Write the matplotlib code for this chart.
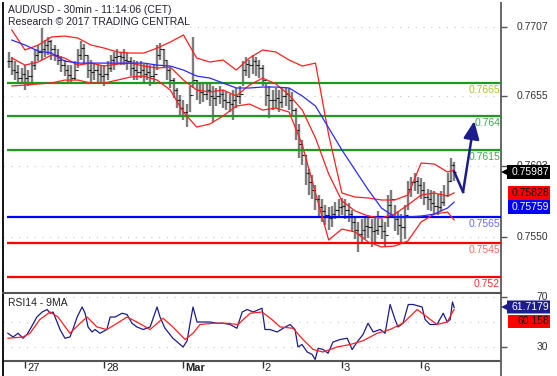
import numpy as np
import matplotlib
matplotlib.use("Agg")
import matplotlib.pyplot as plt
import matplotlib.transforms as mtrans
from matplotlib.patches import Polygon
from matplotlib.lines import Line2D

plt.rcParams['font.family'] = ['Liberation Sans', 'DejaVu Sans']

# hourly bars, x = hours since start of the 27th (24 per trading day)
first_hour = -5
high = [.7688, .7684, .7681, .7678, .7676, .7678, .7675, .7681, .7690, .7693,
        .7706, .7697, .7699, .7697, .7693, .7690, .7685, .7682, .7678, .7678,
        .7681, .7690, .7696, .7694, .7685, .7682, .7680, .7679, .7678, .7678,
        .7681, .7686, .7688, .7690, .7688, .7690, .7687, .7684, .7682, .7681,
        .7681, .7679, .7680, .7678, .7679, .7693, .7695, .7690, .7681, .7676,
        .7669, .7661, .7656, .7652, .7649, .7663, .7699, .7667, .7666, .7664,
        .7666, .7664, .7663, .7661, .7663, .7660, .7658, .7657, .7660, .7661,
        .7663, .7681, .7684, .7682, .7686, .7684, .7682, .7678, .7666, .7663,
        .7660, .7661, .7660, .7661, .7662, .7661, .7658, .7646, .7634, .7622,
        .7611, .7601, .7596, .7589, .7581, .7578, .7574, .7572, .7573, .7576,
        .7578, .7579, .7578, .7575, .7570, .7564, .7561, .7563, .7564, .7566,
        .7563, .7564, .7569, .7563, .7561, .7581, .7585, .7574, .7569, .7567,
        .7574, .7592, .7595, .7598, .7595, .7594, .7591, .7586, .7585, .7584,
        .7582, .7584, .7589, .7598, .7609, .7606]
low = [.7676, .7671, .7667, .7666, .7665, .7660, .7663, .7665, .7675, .7681,
       .7682, .7684, .7686, .7682, .7681, .7678, .7673, .7670, .7666, .7665,
       .7667, .7676, .7682, .7679, .7669, .7666, .7667, .7666, .7664, .7663,
       .7667, .7673, .7675, .7678, .7678, .7678, .7675, .7670, .7667, .7667,
       .7669, .7666, .7667, .7663, .7666, .7675, .7682, .7676, .7667, .7661,
       .7654, .7646, .7641, .7637, .7632, .7643, .7661, .7652, .7649, .7651,
       .7652, .7648, .7636, .7648, .7649, .7646, .7645, .7643, .7637, .7646,
       .7649, .7663, .7670, .7669, .7672, .7670, .7669, .7663, .7648, .7639,
       .7645, .7646, .7643, .7646, .7648, .7645, .7641, .7622, .7609, .7604,
       .7589, .7581, .7578, .7570, .7564, .7561, .7559, .7555, .7557, .7563,
       .7564, .7566, .7563, .7561, .7554, .7548, .7539, .7546, .7548, .7549,
       .7542, .7545, .7551, .7548, .7542, .7557, .7566, .7554, .7551, .7546,
       .7548, .7570, .7580, .7584, .7582, .7578, .7574, .7570, .7569, .7567,
       .7566, .7569, .7573, .7580, .7591, .7592]
close = [.7681, .7675, .7673, .7669, .7672, .7669, .7670, .7678, .7686, .7688,
         .7690, .7693, .7696, .7690, .7686, .7682, .7678, .7675, .7671, .7669,
         .7675, .7686, .7691, .7686, .7675, .7673, .7675, .7672, .7670, .7672,
         .7676, .7682, .7684, .7685, .7684, .7682, .7681, .7676, .7675, .7673,
         .7675, .7672, .7673, .7670, .7672, .7686, .7690, .7682, .7675, .7667,
         .7660, .7652, .7646, .7643, .7641, .7656, .7667, .7660, .7658, .7657,
         .7660, .7655, .7654, .7655, .7657, .7652, .7651, .7649, .7652, .7655,
         .7657, .7675, .7679, .7678, .7681, .7678, .7676, .7667, .7656, .7652,
         .7652, .7654, .7651, .7655, .7657, .7652, .7645, .7630, .7619, .7611,
         .7598, .7591, .7585, .7578, .7572, .7569, .7566, .7564, .7567, .7570,
         .7572, .7573, .7570, .7567, .7561, .7555, .7552, .7555, .7558, .7557,
         .7554, .7555, .7558, .7554, .7551, .7574, .7578, .7563, .7559, .7557,
         .7566, .7586, .7591, .7592, .7589, .7585, .7580, .7578, .7575, .7573,
         .7572, .7576, .7581, .7592, .7604, .75987]

# indicator lines read every 4 hours
band_x = [-4, 0, 4, 8, 12, 16, 20, 24, 28, 32, 36, 40, 44, 48, 52, 56, 60, 64,
          68, 72, 76, 80, 84, 88, 92, 96, 100, 104, 108, 112, 116, 120, 124, 128, 130]
bb_upper = [.77045, .76896, .76933, .76993, .77000, .76985, .76933, .76910, .76881, .76873,
            .76873, .76910, .76955, .77008, .76836, .76806, .76821, .76746, .76836, .76896,
            .76881, .76821, .76776, .76798, .76261, .75827, .75797, .75790, .75775, .75775,
            .75812, .76051, .76044, .75984, .75999]
bb_mid = [.76836, .76783, .76806, .76858, .76836, .76783, .76798, .76776, .76791, .76798,
          .76776, .76761, .76768, .76671, .76597, .76582, .76597, .76552, .76634, .76686,
          .76642, .76559, .76447, .76238, .75969, .75768, .75693, .75655, .75640, .75670,
          .75738, .75812, .75827, .75805, .75828]
bb_lower = [.76627, .76634, .76642, .76649, .76671, .76671, .76649, .76649, .76671, .76694,
            .76701, .76671, .76597, .76432, .76320, .76343, .76403, .76477, .76492, .76447,
            .76462, .76432, .76186, .75827, .75476, .75558, .75536, .75461, .75424, .75431,
            .75469, .75611, .75670, .75685, .75626]
ma_blue = [.76970, .76933, .76888, .76873, .76813, .76798, .76798, .76798, .76798, .76798,
           .76798, .76783, .76776, .76746, .76701, .76686, .76649, .76612, .76612, .76619,
           .76619, .76612, .76552, .76477, .76313, .76149, .75999, .75850, .75715, .75648,
           .75648, .75655, .75670, .75715, .75759]

levels = [0.7665, 0.764, 0.7615, 0.7565, 0.7545, 0.752]
level_labels = ["0.7665", "0.764", "0.7615", "0.7565", "0.7545", "0.752"]
level_colors = ["#1f9a1f", "#1f9a1f", "#1f9a1f", "#0000ff", "#ff0000", "#ff0000"]
level_text_colors = ["#a8c81e", "#3cb04a", "#3cb04a", "#6a6aff", "#ff6a5a", "#ff3030"]

price_ticks = [0.7707, 0.7655, 0.7603, 0.7550]

fc_x = [130, 132.7, 136.1]
fc_y = [0.75987, 0.75835, 0.76365]

rsi_x = [-5.2, -3.6, -2.1, -0.6, 0.6, 1.5, 3.6, 5.2, 6.7, 7.6,
         8.5, 9.7, 10.6, 12.1, 13.6, 14.5, 15.8, 17.3, 18.2, 19.1,
         20.3, 21.2, 22.7, 24.8, 25.8, 27.3, 29.4, 30.9, 32.4, 33.9,
         35.8, 37.9, 40, 40.9, 42.4, 43.9, 44.8, 47, 47.9, 49.1,
         50, 50.9, 52.1, 53.9, 56.1, 58.2, 60, 62.1, 64.2, 65.8,
         67.3, 69.1, 71.8, 72.7, 74.2, 76.4, 78.2, 80.3, 81.8, 82.7,
         83.9, 85.5, 87, 87.9, 88.8, 90.3, 91.8, 93.3, 95.5, 97.6,
         99.1, 100.6, 102.4, 103.9, 105.5, 107.6, 109.1, 110.6, 112.1, 113,
         114.5, 116.1, 117.6, 120.3, 121.2, 122.7, 124.8, 126.7, 127.9, 128.8,
         129.5, 130]
rsi = [41, 38, 41, 37, 40, 44, 54, 58, 60, 57,
       58, 50, 44, 37, 38, 44, 54, 62, 57, 46,
       42, 44, 41, 44, 54, 54, 57, 56, 49, 46,
       44, 46, 62, 54, 45, 40, 37, 32, 30, 35,
       49, 62, 50, 50, 50, 49, 49, 48, 45, 58,
       60, 58, 61, 44, 44, 42, 45, 48, 44, 30,
       32, 26, 24, 20, 29, 28, 25, 34, 36, 37,
       28, 34, 40, 49, 42, 44, 41, 64, 52, 46,
       49, 64, 64, 62, 52, 48, 48, 57, 50, 52,
       66, 61.7179]
rsi_ma_x = [-5.2, -0.6, 1.5, 4.5, 7.6, 10, 13.6, 16.7, 18.8, 21.8,
            24.8, 27.9, 30.9, 33.9, 37.9, 41.8, 44.8, 48.5, 50.9, 53,
            57, 61.2, 64.5, 68.2, 71.8, 74.8, 77.3, 81.2, 84.2, 87.3,
            90.3, 94.5, 98.5, 102.4, 106.7, 110.6, 114.5, 118.8, 121.8, 124.8,
            127.9, 130]
rsi_ma = [37, 38, 41, 52, 58, 54, 41, 49, 54, 46,
          44, 49, 54, 50, 44, 53, 46, 36, 41, 48,
          49, 49, 48, 57, 58, 52, 46, 45, 36, 28,
          26, 30, 32, 35, 41, 44, 49, 60, 54, 48,
          50, 60.158]

day_pos = [0, 24, 48, 72, 96, 120]
day_labels = ["27", "28", "Mar", "2", "3", "6"]

W, H = 557, 376


def fx(x):
    return x / W


def fy(y):
    return 1 - y / H


fig = plt.figure(figsize=(W / 100, H / 100), dpi=100)
ax = fig.add_axes([fx(3), fy(293), fx(501) - fx(3), fy(3) - fy(293)])
ax2 = fig.add_axes([fx(3), fy(361), fx(501) - fx(3), fy(293) - fy(361)])
xmin, xmax = -6.67, 144.2

# ---- price panel
hours = np.arange(len(close)) + first_hour
opens = [close[0]] + close[:-1]
for v in price_ticks:
    ax.axhline(v, color="#c4c4c4", lw=0.8, ls=(0, (1, 6)), zorder=1)
ax.vlines(hours, low, high, color="#7d7d7d", lw=1.7, zorder=2)
ax.hlines(opens, hours - 0.5, hours, color="#111111", lw=0.8, zorder=2)
ax.hlines(close, hours, hours + 0.5, color="#111111", lw=0.8, zorder=2)

lab_trans = mtrans.offset_copy(ax.get_yaxis_transform(), fig=fig, y=-2, units="dots")
for v, c, t, tc in zip(levels, level_colors, level_labels, level_text_colors):
    ax.hlines(v, -5.4, xmax, color=c, lw=1.6, zorder=3)
    ax.text(0.998, v, t, transform=lab_trans, ha="right", va="top",
            color=tc, fontsize=7.5, zorder=5)

ax.plot(band_x, bb_upper, color="#ff1f1f", lw=0.9, zorder=4)
ax.plot(band_x, bb_lower, color="#ff1f1f", lw=0.9, zorder=4)
ax.plot(band_x, bb_mid, color="#ff1f1f", lw=0.9, zorder=4)
ax.plot(band_x, ma_blue, color="#2a2aff", lw=0.9, zorder=4)

ax.plot(fc_x[:2], fc_y[:2], color="#1c1c8c", lw=1.8, zorder=6)
ax.annotate("", xy=(fc_x[2], fc_y[2]), xytext=(fc_x[1], fc_y[1]),
            arrowprops=dict(arrowstyle="-|>,head_length=0.9,head_width=0.4",
                            color="#1c1c8c", lw=1.8, mutation_scale=12,
                            shrinkA=0, shrinkB=0), zorder=6)

ax.set_xlim(xmin, xmax)
ax.set_ylim(0.75080, 0.77247)
ax.set_xticks([])
ax.yaxis.tick_right()
ax.set_yticks(price_ticks)
ax.tick_params(axis="y", length=4, width=1, color="#555555", labelright=False)
for s in ["top", "bottom"]:
    ax.spines[s].set_visible(False)
ax.spines["left"].set_color("#111111")
ax.spines["left"].set_linewidth(1.4)
ax.spines["right"].set_color("#666666")
ax.spines["right"].set_linewidth(1.4)

ylab = mtrans.blended_transform_factory(fig.transFigure, ax.transData)
for v in price_ticks:
    ax.text(fx(548), v, f"{v:.4f}", transform=ylab, ha="right", va="center",
            fontsize=7.5, color="#333333", clip_on=False)

# ---- RSI panel
for v in [70, 50, 30]:
    ax2.axhline(v, color="#c4c4c4", lw=0.8, ls=(0, (1, 6)), zorder=1)
ax2.plot(rsi_x, rsi, color="#1c1c8c", lw=0.9, zorder=3)
ax2.plot(rsi_ma_x, rsi_ma, color="#ff1f1f", lw=0.9, zorder=4)
ax2.set_xlim(xmin, xmax)
ax2.set_ylim(18.8, 73.2)
ax2.yaxis.tick_right()
ax2.set_yticks([70, 30])
ax2.tick_params(axis="y", length=4, width=1, color="#555555", labelright=False)
ax2.set_xticks(day_pos)
ax2.tick_params(axis="x", direction="out", length=5, width=1, color="#333333",
                labelbottom=False)
ax2.spines["left"].set_color("#111111")
ax2.spines["left"].set_linewidth(1.4)
ax2.spines["right"].set_color("#666666")
ax2.spines["right"].set_linewidth(1.4)
for s in ["top", "bottom"]:
    ax2.spines[s].set_color("#555555")
    ax2.spines[s].set_linewidth(1.5)

ylab2 = mtrans.blended_transform_factory(fig.transFigure, ax2.transData)
for v in [70, 30]:
    ax2.text(fx(548), v, str(v), transform=ylab2, ha="right", va="center",
             fontsize=7.5, color="#333333", clip_on=False)

for p, t in zip(day_pos, day_labels):
    ax2.text(p + 0.6, -0.1, t, transform=ax2.get_xaxis_transform(), ha="left",
             va="center", fontsize=8, color="#222222",
             fontweight="bold" if t == "Mar" else "normal", clip_on=False)
ax2.text(0.01, 0.86, "RSI14 - 9MA", transform=ax2.transAxes, fontsize=7.5,
         color="#222222", va="center")

# axis lines running to the bottom edge
fig.add_artist(Line2D([fx(3), fx(3)], [0, fy(361)], color="#111111", lw=1.4))
fig.add_artist(Line2D([fx(501), fx(501)], [0, fy(361)], color="#666666", lw=1.4))

# title
fig.text(fx(8), fy(10), "AUD/USD - 30min - 11:14:06 (CET)", fontsize=7.5,
         color="#222233", va="center")
fig.text(fx(8), fy(22), "Research \u00a9 2017 TRADING CENTRAL", fontsize=7.5,
         color="#222233", va="center")


# value boxes on the right axis
def value_box(x0, x1, yc, h, face, text, tcolor, pointer=False):
    pts = [(x0, yc - h / 2), (x1, yc - h / 2), (x1, yc + h / 2), (x0, yc + h / 2)]
    if pointer:
        pts = pts + [(x0, yc + 3), (501, yc), (x0, yc - 3)]
    poly = Polygon([(fx(a), fy(b)) for a, b in pts], closed=True,
                   transform=fig.transFigure, facecolor=face, edgecolor="none",
                   zorder=5)
    fig.add_artist(poly)
    fig.text(fx(x1 - 1), fy(yc), text, color=tcolor, fontsize=7.5, ha="right",
             va="center", zorder=6)


value_box(507, 550, 172, 14, "#000000", "0.75987", "white", pointer=True)
value_box(508, 550, 193, 14, "#ff0000", "0.75828", "#111111")
value_box(508, 550, 207, 14, "#0000ff", "0.75759", "white")
value_box(507, 550, 307, 13, "#1c1c8c", "61.7179", "white", pointer=True)
value_box(508, 550, 321, 13, "#ff0000", "60.158", "#111111")

fig.savefig("out.png", dpi=100)
